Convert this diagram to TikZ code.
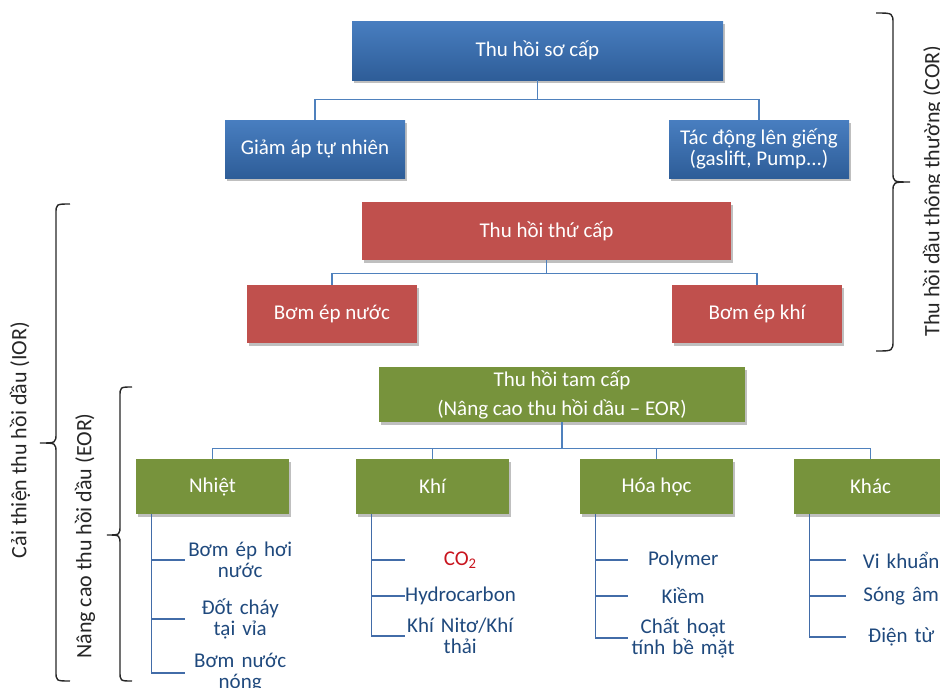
\documentclass[tikz,border=0pt]{standalone}
\usepackage{fontspec}
\setmainfont{Carlito}
\usepackage{tikz}
\usetikzlibrary{calc,positioning,shadows}
\definecolor{boxblue}{RGB}{72,126,192}
\definecolor{boxbluedark}{RGB}{46,93,152}
\definecolor{boxred}{RGB}{192,80,77}
\definecolor{boxgreen}{RGB}{119,147,60}
\definecolor{linkblue}{RGB}{79,129,189}
\definecolor{treeblue}{RGB}{66,108,168}
\definecolor{leafblue}{RGB}{31,73,125}
\definecolor{cored}{RGB}{200,20,30}

\begin{document}
\begin{tikzpicture}[x=1pt,y=-1pt,
    box/.style={text=white,align=center,inner sep=0pt,
      font=\fontsize{21}{21}\selectfont,
      drop shadow={shadow xshift=2pt,shadow yshift=-3pt,fill=black,opacity=.25}},
    bluebox/.style={box,top color=boxblue,bottom color=boxbluedark},
    redbox/.style={box,fill=boxred},
    greenbox/.style={box,fill=boxgreen,minimum width=153pt,minimum height=55pt},
    link/.style={draw=linkblue,line width=1.2pt},
    tree/.style={draw=treeblue,line width=1.2pt},
    leaf/.style={anchor=west,text width=110pt,align=center,inner sep=0pt,
      text=leafblue,font=\fontsize{21}{21}\selectfont},
    bracket/.style={line width=1.4pt,draw=black!85},
    side/.style={rotate=90,text=black!85,font=\fontsize{22}{22}\selectfont}]
    \useasboundingbox (0,0) rectangle (940,688);

    % Primary recovery
    \node[bluebox,minimum width=371pt,minimum height=59pt] (primary) at (537.5,50.5) {Thu hồi sơ cấp};
    \node[bluebox,minimum width=180pt,minimum height=58pt] (natural) at (315,149) {Giảm áp tự nhiên};
    \node[bluebox,minimum width=180pt,minimum height=58pt] (wellact) at (759,149) {Tác động lên giếng\\(gaslift, Pump...)};
    \draw[link] (primary.south) -- ++(0,19) -| (natural.north);
    \draw[link] (primary.south) -- ++(0,19) -| (wellact.north);

    % Secondary recovery
    \node[redbox,minimum width=369pt,minimum height=58pt] (secondary) at (546.5,231) {Thu hồi thứ cấp};
    \node[redbox,minimum width=170pt,minimum height=58pt] (water) at (332,314) {Bơm ép nước};
    \node[redbox,minimum width=170pt,minimum height=58pt] (gasinj) at (757,314) {Bơm ép khí};
    \draw[link] (secondary.south) -- ++(0,13) -| (water.north);
    \draw[link] (secondary.south) -- ++(0,13) -| (gasinj.north);

    % Tertiary recovery
    \node[greenbox,minimum width=366pt] (tertiary) at (562,394.5) {Thu hồi tam cấp\\[8pt](Nâng cao thu hồi dầu -- EOR)};
    \node[greenbox] (heat) at (212.5,486.5) {Nhiệt};
    \node[greenbox] (gas) at (432.5,486.5) {Khí};
    \node[greenbox] (chem) at (656.5,486.5) {Hóa học};
    \node[greenbox] (other) at (870.5,486.5) {Khác};
    \foreach \m in {heat,gas,chem,other}
      \draw[link] (tertiary.south) -- ++(0,26) -| (\m.north);

    % Methods under each group
    \foreach \m in {heat,gas,chem,other}
      \coordinate (\m-t) at ([xshift=16pt]\m.south west);

    \node[leaf] (heat-1) at (185,560) {Bơm ép hơi\\nước};
    \node[leaf] (heat-2) at (185,619) {Đốt cháy\\tại vỉa};
    \node[leaf] (heat-3) at (185,673) {Bơm nước\\nóng};

    \node[leaf,text=cored] (gas-1) at (405,560) {CO\textsubscript{2}};
    \node[leaf] (gas-2) at (405,596) {Hydrocarbon};
    \node[leaf] (gas-3) at (405,636) {Khí Nitơ/Khí\\thải};

    \node[leaf] (chem-1) at (628,560) {Polymer};
    \node[leaf] (chem-2) at (628,596) {Kiềm};
    \node[leaf] (chem-3) at (628,638) {Chất hoạt\\tính bề mặt};

    \node[leaf] (other-1) at (846,560) {Vi khuẩn};
    \node[leaf] (other-2) at (846,596) {Sóng âm};
    \node[leaf] (other-3) at (846,637) {Điện từ};

    \foreach \m in {heat,gas,chem,other}
      \foreach \i in {1,2,3}
        \draw[tree] (\m-t) |- (\m-\i.west);

    % Braces and side labels
    \draw[bracket] (876,13) .. controls (893,13) .. (893,24) -- (893,172)
      .. controls (893,182) .. (910,182) .. controls (893,182) .. (893,192)
      -- (893,340) .. controls (893,351) .. (876,351);
    \node[side] (cor) at (933,191) {Thu hồi dầu thông thường (COR)};

    \draw[bracket] (70,204) .. controls (56,204) .. (56,214) -- (56,433)
      .. controls (56,443) .. (40,443) .. controls (56,443) .. (56,453)
      -- (56,671) .. controls (56,681) .. (70,681);
    \node[side] (ior) at (20,440) {Cải thiện thu hồi dầu (IOR)};

    \draw[bracket] (132,387) .. controls (120,387) .. (120,397) -- (120,525)
      .. controls (120,535) .. (107,535) .. controls (120,535) .. (120,545)
      -- (120,671) .. controls (120,681) .. (132,681);
    \node[side] (eor) at (85,536) {Nâng cao thu hồi dầu (EOR)};
  \end{tikzpicture}
\end{document}
